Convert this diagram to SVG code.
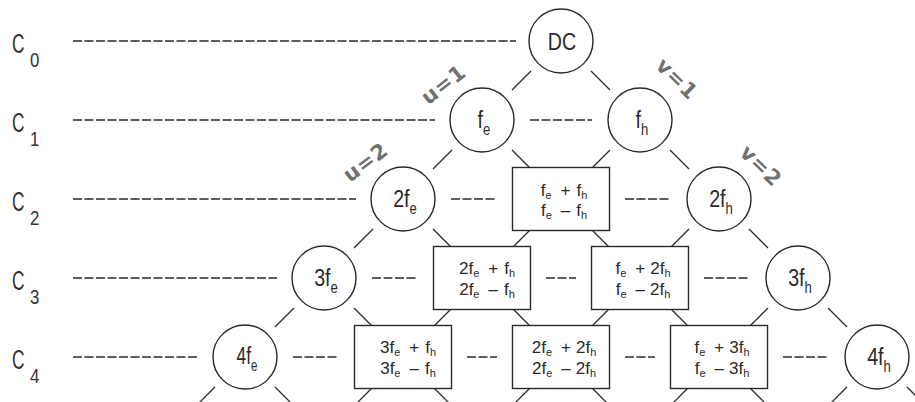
<svg xmlns="http://www.w3.org/2000/svg" width="915" height="402" viewBox="0 0 915 402">
<style>
.bg{fill:#fff}
.nd{fill:#fff;stroke:#2a2a2a;stroke-width:1.4}
.cn{stroke:#2a2a2a;stroke-width:1.3;fill:none}
.dl{stroke:#2a2a2a;stroke-width:1.3;fill:none;stroke-dasharray:9 2.5}
.lab{font-family:"Liberation Sans",Arial,sans-serif;font-size:28px;fill:#333}
.labs{font-family:"Liberation Sans",Arial,sans-serif;font-size:21px;fill:#333}
.big{font-family:"Liberation Sans",Arial,sans-serif;font-size:24px;fill:#2a2a2a;text-anchor:middle}
.bsub{font-size:16px}
.bt{font-family:"Liberation Sans",Arial,sans-serif;font-size:17px;fill:#2a2a2a;text-anchor:middle}
.tsub{font-size:11px}
.hw{font-family:"DejaVu Sans",sans-serif;font-weight:bold;font-size:21px;fill:#707070;text-anchor:middle;letter-spacing:1px}
</style>
<rect class="bg" x="0" y="0" width="915" height="402"/>

<g id="labels">
  <g transform="translate(12,53) scale(0.62,1)"><text class="lab">C</text></g>
  <g transform="translate(30,67) scale(0.8,1)"><text class="labs">0</text></g>
  <g transform="translate(12,132) scale(0.62,1)"><text class="lab">C</text></g>
  <g transform="translate(30,146) scale(0.8,1)"><text class="labs">1</text></g>
  <g transform="translate(12,211) scale(0.62,1)"><text class="lab">C</text></g>
  <g transform="translate(30,225) scale(0.8,1)"><text class="labs">2</text></g>
  <g transform="translate(12,290) scale(0.62,1)"><text class="lab">C</text></g>
  <g transform="translate(30,304) scale(0.8,1)"><text class="labs">3</text></g>
  <g transform="translate(12,369) scale(0.62,1)"><text class="lab">C</text></g>
  <g transform="translate(30,383) scale(0.8,1)"><text class="labs">4</text></g>
</g>

<g id="connectors">
  <line class="dl" x1="73" y1="41" x2="516" y2="41"/>
  <line class="dl" x1="73" y1="120" x2="435" y2="120"/>
  <line class="dl" x1="73" y1="199" x2="356" y2="199"/>
  <line class="dl" x1="73" y1="278" x2="277" y2="278"/>
  <line class="dl" x1="73" y1="357" x2="198" y2="357"/>
  <line class="dl" x1="530" y1="120" x2="592" y2="120"/>
  <line class="dl" x1="451" y1="199" x2="497" y2="199"/>
  <line class="dl" x1="625" y1="199" x2="671" y2="199"/>
  <line class="dl" x1="372" y1="278" x2="418" y2="278"/>
  <line class="dl" x1="546" y1="278" x2="576" y2="278"/>
  <line class="dl" x1="704" y1="278" x2="750" y2="278"/>
  <line class="dl" x1="293" y1="357" x2="339" y2="357"/>
  <line class="dl" x1="467" y1="357" x2="497" y2="357"/>
  <line class="dl" x1="625" y1="357" x2="655" y2="357"/>
  <line class="dl" x1="783" y1="357" x2="829" y2="357"/>
  <path class="cn" d="M531,71L512,90M591,71L610,90
    M452,150L433,169M512,150L531,169M610,150L591,169M670,150L689,169
    M373,229L354,248M433,229L452,248M531,229L512,248M591,229L610,248M689,229L670,248M749,229L768,248
    M294,308L275,327M354,308L373,327M452,308L433,327M512,308L531,327M610,308L591,327M670,308L689,327M768,308L749,327M828,308L847,327
    M215,387L196,406M275,387L294,406M373,387L354,406M433,387L452,406M531,387L512,406M591,387L610,406M689,387L670,406M749,387L768,406M847,387L828,406M907,387L926,406"/>
</g>

<g id="n-dc"><circle class="nd" cx="561" cy="41" r="32"/>
  <g transform="translate(562,41) scale(0.82,1)"><text class="big" y="9">DC</text></g></g>

<g id="n-fe"><circle class="nd" cx="482" cy="120" r="32"/>
  <g transform="translate(484,120) scale(0.82,1)"><text class="big" y="8">f<tspan class="bsub" dy="7">e</tspan></text></g></g>
<g id="n-fh"><circle class="nd" cx="640" cy="120" r="32"/>
  <g transform="translate(642,120) scale(0.82,1)"><text class="big" y="8">f<tspan class="bsub" dy="7">h</tspan></text></g></g>

<g id="n-2fe"><circle class="nd" cx="403" cy="199" r="32"/>
  <g transform="translate(405,199) scale(0.82,1)"><text class="big" y="8">2f<tspan class="bsub" dy="7">e</tspan></text></g></g>
<g id="n-fe-fh"><rect class="nd" x="512.5" y="167.5" width="97" height="63"/>
  <text class="bt" x="564" y="196">f<tspan class="tsub" dy="3">e</tspan><tspan dy="-3" dx="9">+</tspan><tspan dx="6">f</tspan><tspan class="tsub" dy="3">h</tspan></text>
  <text class="bt" x="564" y="216">f<tspan class="tsub" dy="3">e</tspan><tspan dy="-3" dx="9">–</tspan><tspan dx="6">f</tspan><tspan class="tsub" dy="3">h</tspan></text></g>
<g id="n-2fh"><circle class="nd" cx="719" cy="199" r="32"/>
  <g transform="translate(721,199) scale(0.82,1)"><text class="big" y="8">2f<tspan class="bsub" dy="7">h</tspan></text></g></g>

<g id="n-3fe"><circle class="nd" cx="324" cy="278" r="32"/>
  <g transform="translate(326,278) scale(0.82,1)"><text class="big" y="8">3f<tspan class="bsub" dy="7">e</tspan></text></g></g>
<g id="n-2fe-fh"><rect class="nd" x="433.5" y="246.5" width="97" height="63"/>
  <text class="bt" x="487" y="274">2f<tspan class="tsub" dy="3">e</tspan><tspan dy="-3" dx="9">+</tspan><tspan dx="6">f</tspan><tspan class="tsub" dy="3">h</tspan></text>
  <text class="bt" x="487" y="295">2f<tspan class="tsub" dy="3">e</tspan><tspan dy="-3" dx="9">–</tspan><tspan dx="6">f</tspan><tspan class="tsub" dy="3">h</tspan></text></g>
<g id="n-fe-2fh"><rect class="nd" x="591.5" y="246.5" width="97" height="63"/>
  <text class="bt" x="643" y="274">f<tspan class="tsub" dy="3">e</tspan><tspan dy="-3" dx="9">+</tspan><tspan dx="5">2f</tspan><tspan class="tsub" dy="3">h</tspan></text>
  <text class="bt" x="643" y="295">f<tspan class="tsub" dy="3">e</tspan><tspan dy="-3" dx="9">–</tspan><tspan dx="5">2f</tspan><tspan class="tsub" dy="3">h</tspan></text></g>
<g id="n-3fh"><circle class="nd" cx="798" cy="278" r="32"/>
  <g transform="translate(800,278) scale(0.82,1)"><text class="big" y="8">3f<tspan class="bsub" dy="7">h</tspan></text></g></g>

<g id="n-4fe"><circle class="nd" cx="245" cy="357" r="32"/>
  <g transform="translate(247,357) scale(0.72,1)"><text class="big" y="7">4f<tspan class="bsub" dy="7">e</tspan></text></g></g>
<g id="n-3fe-fh"><rect class="nd" x="354.5" y="325.5" width="97" height="63"/>
  <text class="bt" x="408" y="353">3f<tspan class="tsub" dy="3">e</tspan><tspan dy="-3" dx="9">+</tspan><tspan dx="6">f</tspan><tspan class="tsub" dy="3">h</tspan></text>
  <text class="bt" x="408" y="374">3f<tspan class="tsub" dy="3">e</tspan><tspan dy="-3" dx="9">–</tspan><tspan dx="6">f</tspan><tspan class="tsub" dy="3">h</tspan></text></g>
<g id="n-2fe-2fh"><rect class="nd" x="512.5" y="325.5" width="97" height="63"/>
  <text class="bt" x="564" y="353">2f<tspan class="tsub" dy="3">e</tspan><tspan dy="-3" dx="9">+</tspan><tspan dx="5">2f</tspan><tspan class="tsub" dy="3">h</tspan></text>
  <text class="bt" x="564" y="374">2f<tspan class="tsub" dy="3">e</tspan><tspan dy="-3" dx="9">–</tspan><tspan dx="5">2f</tspan><tspan class="tsub" dy="3">h</tspan></text></g>
<g id="n-fe-3fh"><rect class="nd" x="670.5" y="325.5" width="97" height="63"/>
  <text class="bt" x="722" y="353">f<tspan class="tsub" dy="3">e</tspan><tspan dy="-3" dx="9">+</tspan><tspan dx="5">3f</tspan><tspan class="tsub" dy="3">h</tspan></text>
  <text class="bt" x="722" y="374">f<tspan class="tsub" dy="3">e</tspan><tspan dy="-3" dx="9">–</tspan><tspan dx="5">3f</tspan><tspan class="tsub" dy="3">h</tspan></text></g>
<g id="n-4fh"><circle class="nd" cx="877" cy="357" r="32"/>
  <g transform="translate(879,357) scale(0.82,1)"><text class="big" y="8">4f<tspan class="bsub" dy="7">h</tspan></text></g></g>

<g id="annotations">
  <text class="hw" transform="translate(448,90) rotate(-38)">u=1</text>
  <text class="hw" transform="translate(672,84) rotate(44)">v=1</text>
  <text class="hw" transform="translate(370,168) rotate(-37)">u=2</text>
  <text class="hw" transform="translate(756,171) rotate(44)">v=2</text>
</g>
</svg>
